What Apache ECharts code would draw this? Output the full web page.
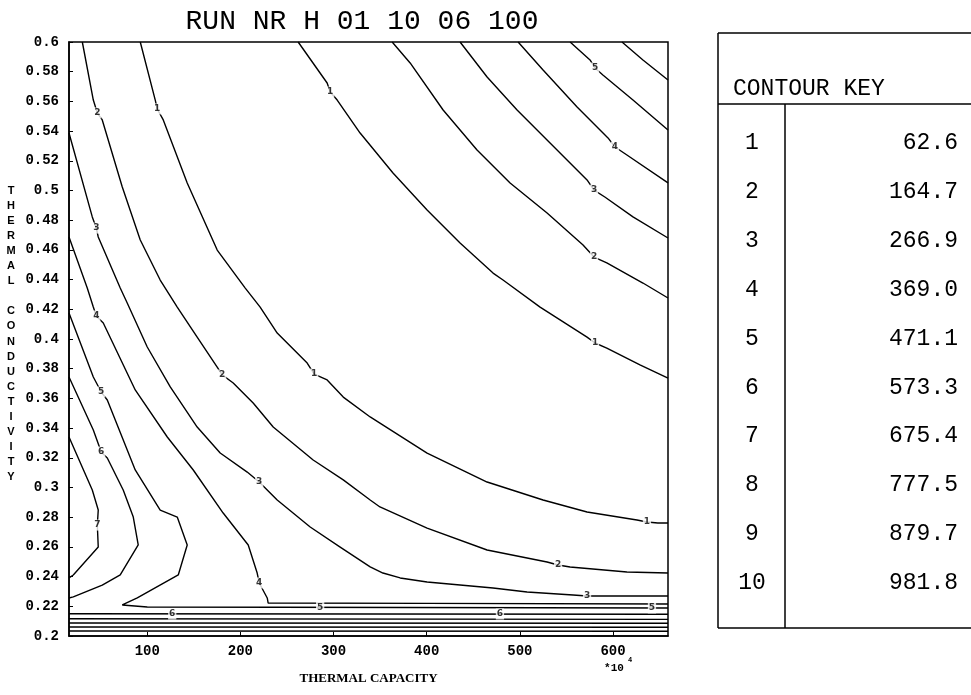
<!DOCTYPE html>
<html>
<head>
<meta charset="utf-8">
<script src="https://cdn.jsdelivr.net/npm/echarts@6/dist/echarts.min.js"></script>
<style>html,body{margin:0;padding:0;background:#fff;}#c{width:971px;height:695px;}</style>
</head>
<body>
<div id="c"></div>
<script>
// ---------------- data ----------------
const chartTitle = 'RUN NR H 01 10 06 100';
const xName = 'THERMAL CAPACITY';
const yNameLetters = ['T','H','E','R','M','A','L','','C','O','N','D','U','C','T','I','V','I','T','Y'];
const xTickValues = [100, 200, 300, 400, 500, 600];
const yTickValues = [0.2,0.22,0.24,0.26,0.28,0.3,0.32,0.34,0.36,0.38,0.4,0.42,0.44,0.46,0.48,0.5,0.52,0.54,0.56,0.58,0.6];
const keyLevels = ['1','2','3','4','5','6','7','8','9','10'];
const keyValues = ['62.6','164.7','266.9','369.0','471.1','573.3','675.4','777.5','879.7','981.8'];

// contour polylines [thermal capacity, thermal conductivity]
const contour1Upper = [[262,0.6],[293.1,0.5724],[296.4,0.5663],[303.9,0.5609],[328.5,0.5387],[363.8,0.5118],[400.4,0.4869],[435.8,0.4646],[471.2,0.4444],[481.9,0.4397],[521.7,0.4215],[572.1,0.4013],[580.7,0.3973],[593.3,0.3939],[628.9,0.3825],[659,0.3737]];
const contour2Upper = [[362.9,0.6],[382.2,0.5859],[417.6,0.5542],[454.0,0.5273],[489.5,0.5051],[529.2,0.4848],[567.8,0.4633],[579.6,0.4552],[593.3,0.4512],[632.1,0.4377],[659,0.4276]];
const contour3Upper = [[435.8,0.6],[464.8,0.5764],[497.0,0.5542],[532.4,0.5320],[572.1,0.5071],[579.6,0.5003],[591.2,0.4956],[621.4,0.4822],[659,0.4680]];
const contour4Upper = [[498.1,0.6],[524.9,0.5811],[561.4,0.5562],[594.6,0.5354],[602.1,0.5293],[614.9,0.5239],[659,0.5051]];
const contour5Upper = [[553.9,0.6],[575.3,0.5879],[580.7,0.5825],[589.1,0.5778],[621.4,0.5609],[659,0.5407]];
const contour6Upper = [[609.6,0.6],[632.1,0.5879],[659,0.5744]];

const contour1Lower = [[92.5,0.6],[108.6,0.5609],[110.7,0.5549],[117.2,0.5475],[142.9,0.5051],[175.1,0.4599],[205.2,0.4343],[221.2,0.4215],[239.5,0.4040],[271.7,0.3838],[279.2,0.3764],[293.1,0.3724],[310.4,0.3609],[339.3,0.3475],[349.8,0.3434],[400.4,0.3232],[464.8,0.3037],[524.9,0.2916],[572.1,0.2835],[625.7,0.2781],[636.4,0.2768],[648.1,0.2761],[659,0.2761]];
const contour2Lower = [[30.3,0.6],[42.1,0.5609],[46.4,0.5522],[51.7,0.5475],[73.2,0.5024],[92.5,0.4667],[113.9,0.4397],[132.2,0.4215],[153.6,0.4013],[175.1,0.3811],[180.5,0.3758],[192.3,0.3704],[213.7,0.3569],[235.2,0.3407],[278.1,0.3185],[310.4,0.3051],[339.3,0.2916],[349.8,0.2869],[400.4,0.2727],[464.8,0.2579],[529.2,0.2498],[541.0,0.2478],[553.9,0.2465],[614.9,0.2431],[659,0.2424]];
const contour3Lower = [[16,0.5387],[41.0,0.4822],[45.3,0.4747],[47.4,0.4687],[71.0,0.4343],[78.5,0.4242],[100.0,0.3946],[124.7,0.3677],[153.6,0.3407],[178.3,0.3232],[207.3,0.3104],[220.2,0.3037],[239.5,0.2916],[274.9,0.2734],[307.1,0.2599],[339.3,0.2465],[353.0,0.2424],[371.5,0.2391],[400.4,0.2364],[471.2,0.2323],[507.7,0.2296],[557.1,0.2276],[572.1,0.2269],[586.1,0.2269],[659,0.2269]];
const contour4Lower = [[16,0.4687],[35.6,0.4343],[42.1,0.4215],[45.3,0.4155],[52.8,0.4108],[87.1,0.3657],[121.5,0.3340],[149.4,0.3118],[181.5,0.2828],[208.4,0.2613],[218.0,0.2424],[220.2,0.2357],[228.8,0.2256],[229.8,0.2222],[400,0.2220],[659,0.2215]];
const contour5Lower = [[16,0.4175],[42.1,0.3744],[50.6,0.3643],[57.1,0.3589],[87.1,0.3118],[113.9,0.2848],[132.2,0.2801],[142.9,0.2613],[133.3,0.2411],[89.3,0.2256],[73.2,0.2209],[100,0.2195],[659,0.2189]];
const contour6Tongue = [[16,0.3744],[42.1,0.3387],[50.6,0.3239],[57.1,0.3199],[74.2,0.2983],[85.0,0.2801],[90.3,0.2613],[71.0,0.2411],[51.7,0.2343],[20.6,0.2263],[16,0.2256]];
const contour6Band = [[16,0.2150],[659,0.2146]];
const contour7Tongue = [[16,0.3340],[41.0,0.2983],[47.4,0.2848],[46.4,0.2747],[47.4,0.2599],[20.6,0.2411],[16,0.2391]];
const contour7Band = [[16,0.2116],[659,0.2112]];
const contour8Band = [[16,0.2088],[659,0.2086]];
const contour9Band = [[16,0.2061],[659,0.2059]];
const contour10Band = [[16,0.2034],[659,0.2032]];

// contour labels [x, y, level]
const contourLabels = [
  [296.4,0.5663,'1'],[580.7,0.3973,'1'],[579.6,0.4552,'2'],[579.6,0.5003,'3'],[602.1,0.5293,'4'],[580.7,0.5825,'5'],
  [110.7,0.5549,'1'],[279.2,0.3764,'1'],[636.4,0.2768,'1'],
  [46.4,0.5522,'2'],[180.5,0.3758,'2'],[541.0,0.2478,'2'],
  [45.3,0.4747,'3'],[220.2,0.3037,'3'],[572.1,0.2269,'3'],
  [45.3,0.4155,'4'],[220.2,0.2357,'4'],
  [50.6,0.3643,'5'],[285.6,0.2192,'5'],[641.8,0.2189,'5'],
  [50.6,0.3239,'6'],[126.8,0.2148,'6'],[478.6,0.2148,'6'],
  [46.4,0.2747,'7']
];

// ---------------- chart ----------------
const contourSets = [contour1Upper,contour2Upper,contour3Upper,contour4Upper,contour5Upper,contour6Upper,
  contour1Lower,contour2Lower,contour3Lower,contour4Lower,contour5Lower,contour6Tongue,contour6Band,
  contour7Tongue,contour7Band,contour8Band,contour9Band,contour10Band];

const lineSeries = contourSets.map(d => ({
  type: 'line', data: d, symbol: 'none', silent: true, animation: false,
  lineStyle: {color: '#000', width: 1.4}, z: 3
}));

const labelFont = '"Liberation Mono", "DejaVu Sans Mono", monospace';
const graphics = [];
// title
graphics.push({type:'text', style:{text: chartTitle, x: 362, y: 22, font: '28px ' + labelFont, fill:'#000', textAlign:'center', textVerticalAlign:'middle'}});
// y axis name
graphics.push({type:'text', style:{text: yNameLetters.join('\n'), x: 11, y: 183, font: 'bold 11px "Liberation Sans", sans-serif', fill:'#000', textAlign:'center', lineHeight: 15.1}});
// x10^4
graphics.push({type:'text', style:{text:'*10', x: 614, y: 668, font:'bold 11px ' + labelFont, fill:'#000', textAlign:'center', textVerticalAlign:'middle'}});
graphics.push({type:'text', style:{text:'4', x: 630, y: 660, font:'bold 7px ' + labelFont, fill:'#000', textAlign:'center', textVerticalAlign:'middle'}});
// key table
const tL = 718, tR = 975, tTop = 33, tHead = 104, tBot = 628, tDiv = 785;
const ln = (x1,y1,x2,y2) => ({type:'line', shape:{x1,y1,x2,y2}, style:{stroke:'#000', lineWidth:1.5}});
graphics.push(ln(tL,tTop,tR,tTop), ln(tL,tHead,tR,tHead), ln(tL,tBot,tR,tBot), ln(tL,tTop,tL,tBot), ln(tDiv,tHead,tDiv,tBot));
graphics.push({type:'text', style:{text:'CONTOUR KEY', x: 733, y: 89, font:'23px ' + labelFont, fill:'#000', textVerticalAlign:'middle'}});
keyLevels.forEach((k,i) => {
  const y = 143 + i * 48.9;
  graphics.push({type:'text', style:{text:k, x: 752, y, font:'23px ' + labelFont, fill:'#000', textAlign:'center', textVerticalAlign:'middle'}});
  graphics.push({type:'text', style:{text:keyValues[i], x: 958, y, font:'23px ' + labelFont, fill:'#000', textAlign:'right', textVerticalAlign:'middle'}});
});

const chart = echarts.init(document.getElementById('c'), null, {renderer:'canvas'});
chart.setOption({
  animation: false,
  backgroundColor: '#fff',
  grid: {left: 69, right: 303, top: 42, bottom: 59, show: true, borderColor: '#000', borderWidth: 1.5},
  xAxis: {
    type: 'value', min: 16, max: 659,
    name: xName, nameLocation: 'middle', nameGap: 36,
    nameTextStyle: {fontFamily: '"Liberation Serif", serif', fontWeight: 'bold', fontSize: 13, color: '#000'},
    axisLine: {lineStyle: {color: '#000', width: 1.5}},
    axisTick: {inside: true, length: 4, customValues: xTickValues, lineStyle: {color: '#000'}},
    axisLabel: {customValues: xTickValues, color: '#000', fontFamily: labelFont, fontWeight: 'bold', fontSize: 14, margin: 8},
    splitLine: {show: false}
  },
  yAxis: {
    type: 'value', min: 0.2, max: 0.6,
    axisLine: {lineStyle: {color: '#000', width: 1.5}},
    axisTick: {inside: true, length: 4, customValues: yTickValues, lineStyle: {color: '#000'}},
    axisLabel: {customValues: yTickValues, color: '#000', fontFamily: labelFont, fontWeight: 'bold', fontSize: 14, margin: 10,
      formatter: v => String(Math.round(v * 100) / 100)},
    splitLine: {show: false}
  },
  series: lineSeries.concat([{
    type: 'scatter', data: contourLabels, symbolSize: 1, silent: true, animation: false, z: 10,
    itemStyle: {color: 'rgba(0,0,0,0)'},
    label: {show: true, position: 'inside', formatter: p => p.value[2], fontSize: 9, fontWeight: 'bold',
      fontFamily: '"DejaVu Sans", sans-serif', color: '#000', backgroundColor: '#fff', padding: [1, 1]}
  }]),
  graphic: graphics
});
</script>
</body>
</html>
